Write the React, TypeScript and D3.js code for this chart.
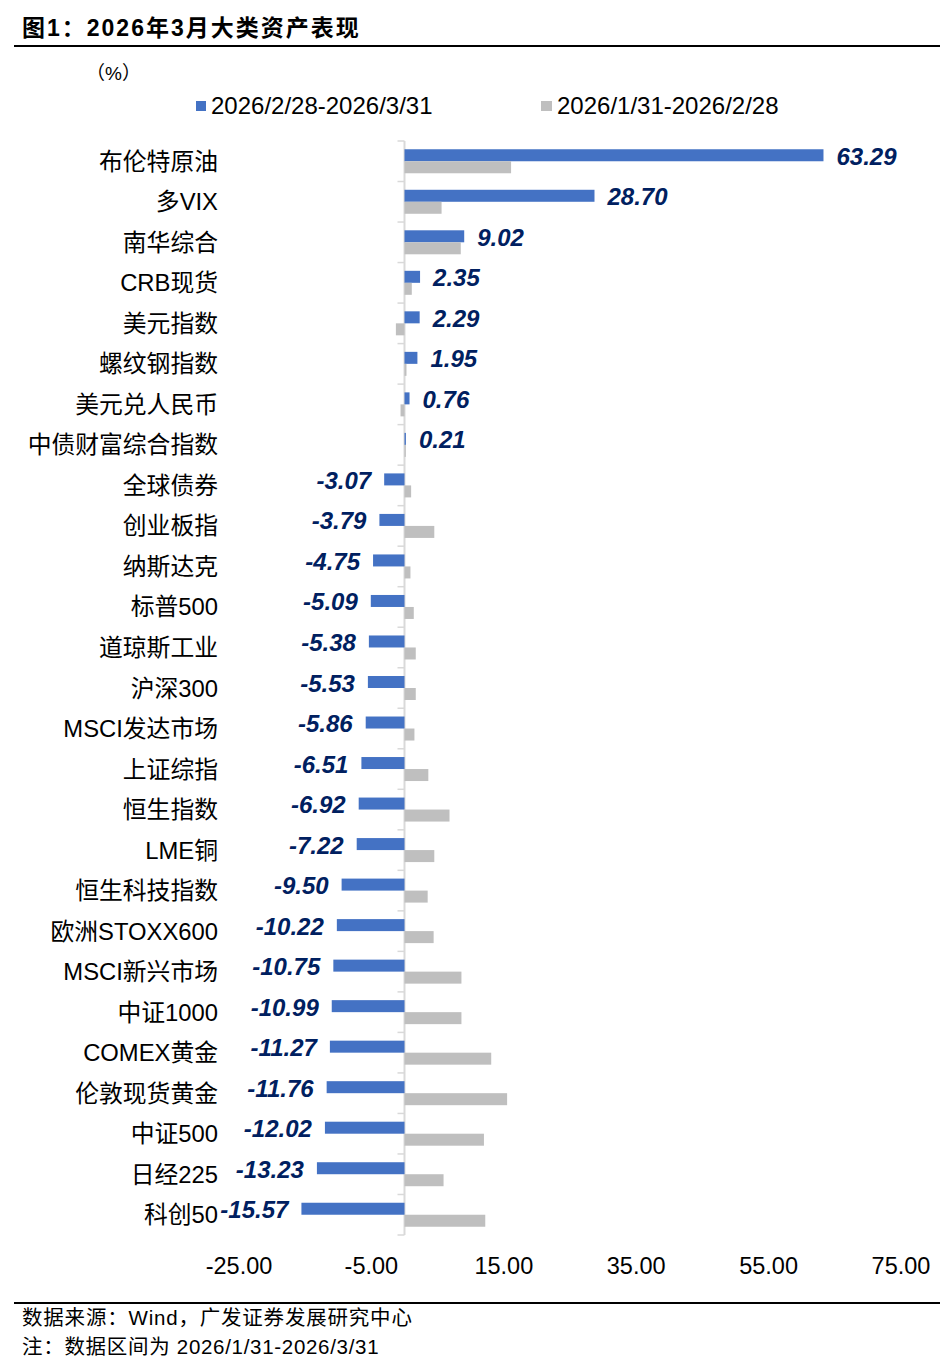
import React from 'react';
import * as d3 from 'd3';

const categories = [
  '布伦特原油', '多VIX', '南华综合', 'CRB现货', '美元指数', '螺纹钢指数', '美元兑人民币',
  '中债财富综合指数', '全球债券', '创业板指', '纳斯达克', '标普500', '道琼斯工业', '沪深300',
  'MSCI发达市场', '上证综指', '恒生指数', 'LME铜', '恒生科技指数', '欧洲STOXX600',
  'MSCI新兴市场', '中证1000', 'COMEX黄金', '伦敦现货黄金', '中证500', '日经225', '科创50',
];

// 2026/2/28-2026/3/31
const marchValues = [
  63.29, 28.70, 9.02, 2.35, 2.29, 1.95, 0.76, 0.21, -3.07, -3.79, -4.75, -5.09, -5.38, -5.53,
  -5.86, -6.51, -6.92, -7.22, -9.50, -10.22, -10.75, -10.99, -11.27, -11.76, -12.02, -13.23, -15.57,
];

// 2026/1/31-2026/2/28
const febValues = [
  16.1, 5.6, 8.5, 1.1, -1.3, 0.3, -0.6, 0.2, 1.0, 4.5, 0.9, 1.4, 1.7, 1.7,
  1.5, 3.6, 6.8, 4.5, 3.5, 4.4, 8.6, 8.6, 13.1, 15.5, 12.0, 5.9, 12.2,
];

const xTicks = [-25, -5, 15, 35, 55, 75];
const seriesNames = ['2026/2/28-2026/3/31', '2026/1/31-2026/2/28'];

const BLUE = '#4472C4';
const GRAY = '#BFBFBF';
const NAVY = '#002060';
const FONT = '"Liberation Sans", Arial, "Noto Sans CJK SC", sans-serif';

export default function App() {
  const width = 940;
  const height = 1372;

  const x = d3.scaleLinear().domain([-25, 75]).range([239, 901]);
  const y = d3.scaleBand().domain(categories).range([141, 1235]).padding(0);
  const barH = 12;
  const x0 = x(0);

  return (
    <svg
      width={width}
      height={height}
      style={{ position: 'absolute', left: 0, top: 0, background: '#fff' }}
      fontFamily={FONT}
    >
      {/* title */}
      <text x={22} y={36} fontSize={23} fontWeight="bold" letterSpacing={2} fill="#000">
        图1：2026年3月大类资产表现
      </text>
      <line x1={14} x2={940} y1={46} y2={46} stroke="#000" strokeWidth={2} />

      {/* unit */}
      <text x={86} y={80} fontSize={19} fill="#000">（%）</text>

      {/* legend */}
      <rect x={196} y={101} width={10} height={10} fill={BLUE} />
      <text x={211} y={114} fontSize={24} fill="#000">{seriesNames[0]}</text>
      <rect x={541} y={101} width={11} height={10} fill={GRAY} />
      <text x={557} y={114} fontSize={24} fill="#000">{seriesNames[1]}</text>

      {/* axis line + minor ticks */}
      <line x1={x0} x2={x0} y1={141} y2={1235} stroke="#D9D9D9" strokeWidth={2} />
      {d3.range(categories.length + 1).map((i) => {
        const yy = 141 + i * y.step();
        return <line key={'t' + i} x1={x0 - 7} x2={x0} y1={yy} y2={yy} stroke="#D9D9D9" strokeWidth={1.5} />;
      })}

      {categories.map((c, i) => {
        const cy = (y(c) as number) + y.bandwidth() / 2;
        const v = marchValues[i];
        const g = febValues[i];
        const bx = Math.min(x(v), x0);
        const gx = Math.min(x(g), x0);
        const pos = v >= 0;
        return (
          <g key={c}>
            <text x={218} y={cy} fontSize={23.8} textAnchor="end" dominantBaseline="central" fill="#000">
              {c}
            </text>
            <rect x={bx} y={cy - barH} width={Math.abs(x(v) - x0)} height={barH} fill={BLUE} />
            <rect x={gx} y={cy} width={Math.abs(x(g) - x0)} height={barH} fill={GRAY} />
            <text
              x={pos ? Math.max(x(v), x0) + 13 : x(v) - 13}
              y={cy - barH / 2 + 1}
              fontSize={24}
              fontWeight="bold"
              fontStyle="italic"
              textAnchor={pos ? 'start' : 'end'}
              dominantBaseline="central"
              fill={NAVY}
              stroke="#fff"
              strokeWidth={1}
              paintOrder="stroke"
            >
              {v.toFixed(2)}
            </text>
          </g>
        );
      })}

      {/* x tick labels */}
      {xTicks.map((t) => (
        <text key={t} x={x(t)} y={1274} fontSize={23.5} textAnchor="middle" fill="#000">
          {t.toFixed(2)}
        </text>
      ))}

      {/* footer */}
      <line x1={14} x2={940} y1={1303} y2={1303} stroke="#000" strokeWidth={2} />
      <text x={22} y={1325} fontSize={20.5} letterSpacing={0.8} fill="#000">
        数据来源：Wind，广发证券发展研究中心
      </text>
      <text x={22} y={1354} fontSize={20.5} letterSpacing={0.7} fill="#000">
        注：数据区间为 2026/1/31-2026/3/31
      </text>
    </svg>
  );
}
